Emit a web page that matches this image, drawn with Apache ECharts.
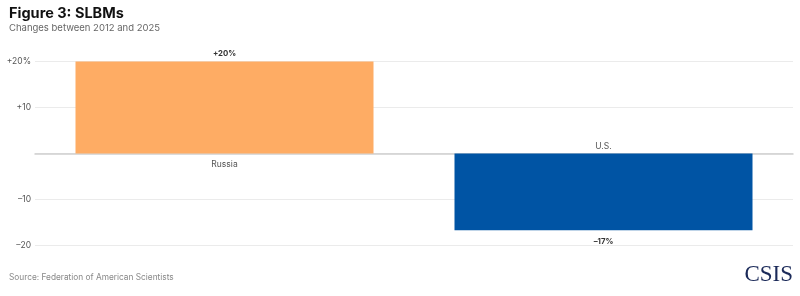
<!DOCTYPE html>
<html><head><meta charset="utf-8">
<script src="https://cdn.jsdelivr.net/npm/echarts@6/dist/echarts.min.js"></script>
<style>html,body{margin:0;padding:0;background:#fff;}#c{width:800px;height:296px;}</style>
</head><body><div id="c"></div>
<script>
const categories = ['Russia', 'U.S.'];
const changes = [20, -16.7];
const barColors = ['#FEAC64', '#0054A4'];
const yTicks = [-20, -10, 0, 10, 20];
const yTickLabels = ['\u201320', '\u201310', '', '+10', '+20%'];

const FONT = 'Inter, "Noto Sans", sans-serif';
const chart = echarts.init(document.getElementById('c'), null, {renderer: 'canvas'});

function fmtChange(v) {
  const r = Math.round(v);
  return (r > 0 ? '+' : '\u2013') + Math.abs(r) + '%';
}

chart.setOption({
  backgroundColor: '#ffffff',
  animation: false,
  title: [
    {text: 'Figure 3: SLBMs', left: 9, top: 6.5, padding: 0, textStyle: {fontFamily: FONT, fontSize: 14.5, fontWeight: 'bold', color: '#111'}},
    {text: 'Changes between 2012 and 2025', left: 9, top: 23.5, padding: 0, textStyle: {fontFamily: FONT, fontSize: 9.5, fontWeight: 'normal', color: '#666'}},
    {text: 'Source: Federation of American Scientists', left: 9, top: 273.5, padding: 0, textStyle: {fontFamily: FONT, fontSize: 8.3, fontWeight: 'normal', color: '#888'}},
    {text: 'CSIS', right: 7, top: 263, padding: 0, textStyle: {fontFamily: '"Liberation Serif", "DejaVu Serif", serif', fontSize: 23, fontWeight: 'normal', color: '#1b2a59'}}
  ],
  grid: {left: 35, right: 7, top: 61.5, bottom: 50.7},
  xAxis: {
    type: 'category',
    data: categories,
    axisLine: {show: true, onZero: true, lineStyle: {color: '#cfcfcf', width: 1.5}},
    axisTick: {show: false},
    axisLabel: {show: false}
  },
  yAxis: {
    type: 'value',
    min: yTicks[0],
    max: yTicks[yTicks.length - 1],
    interval: 10,
    axisLine: {show: false},
    axisTick: {show: false},
    splitLine: {lineStyle: {color: '#ebebeb', width: 1}},
    axisLabel: {
      margin: 4,
      fontFamily: FONT, fontSize: 8.5, color: '#555',
      formatter: function (v) { const i = yTicks.indexOf(v); return i >= 0 ? yTickLabels[i] : ''; }
    }
  },
  series: [
    {
      type: 'bar',
      barWidth: 298,
      data: changes.map((v, i) => ({
        value: v,
        itemStyle: {color: barColors[i]},
        label: v >= 0 ? {position: 'top', distance: 4} : {position: 'bottom', distance: 7.5}
      })),
      label: {
        show: true,
        fontFamily: FONT, fontSize: 7.8, fontWeight: 'bold', color: '#333',
        formatter: p => fmtChange(p.value)
      },
      z: 2
    },
    {
      type: 'bar',
      barWidth: 298,
      barGap: '-100%',
      silent: true,
      data: changes.map((v, i) => ({
        value: v,
        itemStyle: {color: 'rgba(0,0,0,0)'},
        label: v >= 0 ? {position: 'bottom', distance: 7} : {position: 'top', distance: 2}
      })),
      label: {
        show: true,
        fontFamily: FONT, fontSize: 8.5, color: '#555',
        formatter: p => categories[p.dataIndex]
      },
      z: 1
    }
  ]
});
</script></body></html>
